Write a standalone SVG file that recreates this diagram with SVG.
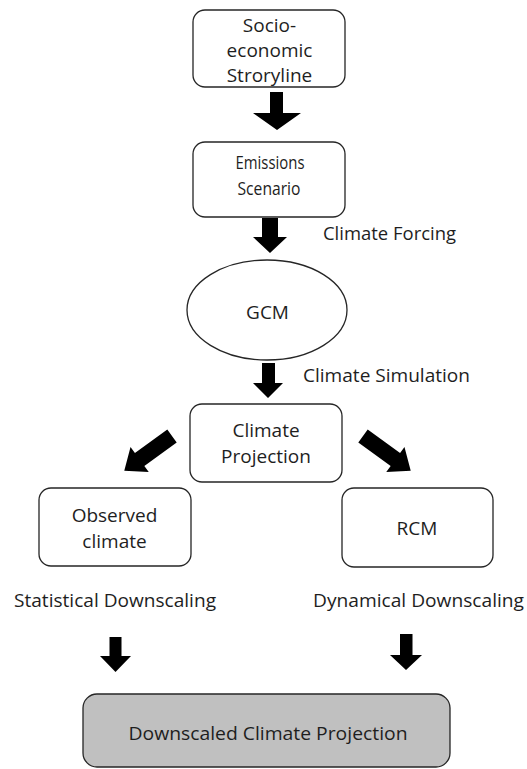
<svg xmlns="http://www.w3.org/2000/svg" width="527" height="769" viewBox="0 0 527 769">
  <style>
    .box { fill: #ffffff; stroke: #262626; stroke-width: 1.3; }
    .final { fill: #c0c0c0; stroke: #262626; stroke-width: 1.3; }
    .txt { font-family: "Open Sans", "Noto Sans", "Liberation Sans", sans-serif; font-size: 19px; fill: #1e1e1e; }
    .mid { text-anchor: middle; }
    .arrow { fill: #000000; stroke: none; }
  </style>
  <defs>
    <!-- block arrow pointing along +x, origin at the tail centre -->
    <polygon id="diag-arrow" points="0,-8 40,-8 40,-15.5 59,0 40,15.5 40,8 0,8"/>
  </defs>

  <rect width="527" height="769" fill="#ffffff"/>

  <g id="storyline">
    <rect class="box" x="193" y="10" width="152" height="77" rx="12"/>
    <text class="txt mid" x="269.5" y="31.5">Socio-</text>
    <text class="txt mid" x="269.5" y="56.5">economic</text>
    <text class="txt mid" x="269.5" y="81.5">Stroryline</text>
  </g>

  <g id="emissions">
    <rect class="box" x="193" y="142" width="152" height="75" rx="12"/>
    <text class="txt mid" x="270" y="168.5" style="font-size:18px" textLength="69" lengthAdjust="spacingAndGlyphs">Emissions</text>
    <text class="txt mid" x="269" y="194.5" style="font-size:18px" textLength="63" lengthAdjust="spacingAndGlyphs">Scenario</text>
  </g>

  <g id="gcm">
    <ellipse class="box" cx="267" cy="310" rx="80" ry="50"/>
    <text class="txt mid" x="267.5" y="319">GCM</text>
  </g>

  <g id="projection">
    <rect class="box" x="190" y="404" width="152" height="78" rx="12"/>
    <text class="txt mid" x="266" y="437">Climate</text>
    <text class="txt mid" x="266" y="463">Projection</text>
  </g>

  <g id="observed">
    <rect class="box" x="39" y="488" width="152" height="78" rx="12"/>
    <text class="txt mid" x="114.5" y="521.5">Observed</text>
    <text class="txt mid" x="114.5" y="548">climate</text>
  </g>

  <g id="rcm">
    <rect class="box" x="342" y="488" width="151" height="79" rx="12"/>
    <text class="txt mid" x="417" y="535">RCM</text>
  </g>

  <g id="downscaled">
    <rect class="final" x="83" y="694" width="367" height="73" rx="14"/>
    <text class="txt mid" x="268" y="740" textLength="279" lengthAdjust="spacingAndGlyphs">Downscaled Climate Projection</text>
  </g>

  <g id="connectors">
    <polygon class="arrow" points="270,92 283,92 283,113 301,113 277,130 253,113 270,113"/>
    <polygon class="arrow" points="262,218 278,218 278,237 287,237 270,253 253,237 262,237"/>
    <polygon class="arrow" points="262,363 275,363 275,383 283,383 268,398 253,383 262,383"/>
    <use href="#diag-arrow" class="arrow" transform="translate(172,436) rotate(144)"/>
    <use href="#diag-arrow" class="arrow" transform="translate(363,436) rotate(36)"/>
    <polygon class="arrow" points="109.5,637 121.5,637 121.5,656 131,656 115.5,672 100,656 109.5,656"/>
    <polygon class="arrow" points="400,634 412.5,634 412.5,655 422,655 406,670 390,655 400,655"/>
  </g>

  <g id="connector-labels">
    <text class="txt" x="323" y="239.5" textLength="133" lengthAdjust="spacingAndGlyphs">Climate Forcing</text>
    <text class="txt" x="303" y="381.5" textLength="167" lengthAdjust="spacingAndGlyphs">Climate Simulation</text>
    <text class="txt" x="14" y="607" textLength="202" lengthAdjust="spacingAndGlyphs">Statistical Downscaling</text>
    <text class="txt" x="313" y="607" textLength="211" lengthAdjust="spacingAndGlyphs">Dynamical Downscaling</text>
  </g>
</svg>
